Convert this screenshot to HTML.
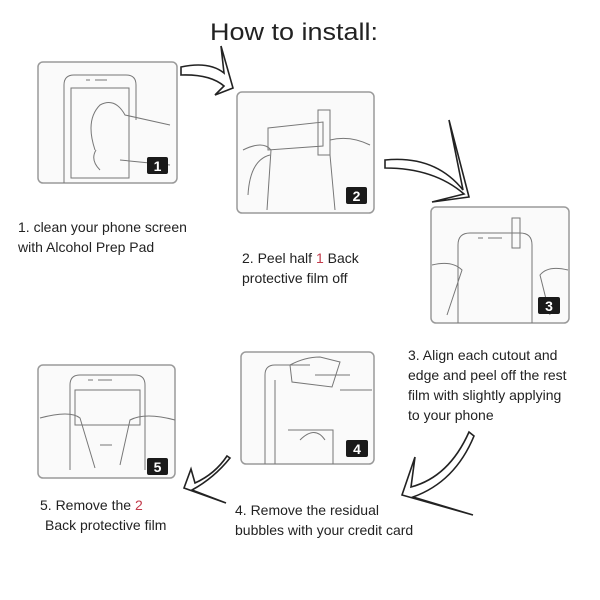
<!DOCTYPE html>
<html><head><style>
html,body{margin:0;padding:0;background:#fff;}
svg{display:block}
text{font-family:"Liberation Sans",sans-serif;fill:#222;}
</style></head><body>
<svg width="600" height="600" viewBox="0 0 600 600" xmlns="http://www.w3.org/2000/svg">
<rect width="600" height="600" fill="#fff"/>
<text x="294" y="40" font-size="24" text-anchor="middle" fill="#111" textLength="168" lengthAdjust="spacingAndGlyphs">How to install:</text>

<g fill="#fafafa" stroke="#9a9a9a" stroke-width="1.5">
<rect x="38" y="62" width="139" height="121" rx="5"/>
<rect x="237" y="92" width="137" height="121" rx="5"/>
<rect x="431" y="207" width="138" height="116" rx="5"/>
<rect x="241" y="352" width="133" height="112" rx="5"/>
<rect x="38" y="365" width="137" height="113" rx="5"/>
</g>

<g fill="none" stroke="#777" stroke-width="1">
<path d="M64 183 V85 q0-10 10-10 h52 q10 0 10 10 V120"/>
<rect x="71" y="88" width="58" height="90"/>
<path d="M86 80 h4 M95 80 h12"/>
<path d="M95 150 q-10-30 5-45 q15-8 25 10 l45 10 M120 160 l50 5 M100 170 q-10-10 -4-20"/>
<path d="M268 128 l55-6 v24 l-55 4 z M318 110 h12 v45 h-12z"/>
<path d="M243 150 q20-10 28 0 l-4 60 M330 140 q20-5 40 5 M330 155 l5 55 M270 155 q-20 5-22 40"/>
<path d="M458 323 V245 q0-12 12-12 h50 q12 0 12 12 V323"/>
<path d="M478 238 h5 M488 238 h14 M512 218 h8 v30 h-8z"/>
<path d="M432 265 q20-5 30 5 l-15 45 M568 270 q-20-5-28 5 l10 40"/>
<path d="M265 464 V375 q0-10 10-10 h35 M275 380 v84 M315 375 h35 M288 430 h45 v34 M300 440 q15-15 25 0"/>
<path d="M290 365 q15-8 30-8 l20 5 -8 25 -40 -5z M340 390 h32"/>
<path d="M70 470 V385 q0-10 10-10 h55 q10 0 10 10 V470 M75 390 h65 v35 h-65z M88 380 h5 M98 380 h14"/>
<path d="M40 418 q30-8 40 0 l15 50 M175 420 q-30-8-45 0 l-10 45 M100 445 h12"/>
</g>

<g fill="#1a1a1a">
<rect x="147" y="157" width="21" height="17" rx="2"/>
<rect x="346" y="187" width="21" height="17" rx="2"/>
<rect x="538" y="297" width="22" height="17" rx="2"/>
<rect x="346" y="440" width="22" height="17" rx="2"/>
<rect x="147" y="458" width="21" height="17" rx="2"/>
</g>
<g font-size="14" font-weight="bold" text-anchor="middle">
<text x="157.5" y="171" style="fill:#fff">1</text>
<text x="356.5" y="201" style="fill:#fff">2</text>
<text x="549" y="311" style="fill:#fff">3</text>
<text x="357" y="454" style="fill:#fff">4</text>
<text x="157.5" y="472" style="fill:#fff">5</text>
</g>

<g fill="#fff" stroke="#222" stroke-width="1.6" stroke-linejoin="miter">
<path d="M181 67 q28-6 43 6 l-3-27 l12 42 l-18 7 l9-9 q-14-12-43-11 z"/>
<path d="M385 160 q50-5 78 30 l-14-70 l20 77 l-37 5 l32-8 q-30-26-79-26 z"/>
<path d="M474 436 l-5-4 q-20 45-58 55 l4-30 l-13 38 l71 20 l-60-18 q42-15 61-61 z"/>
<path d="M230 458 l-3-2 q-12 18-32 27 l-4-14 l-7 19 l42 15 l-34-13 q22-12 38-32 z"/>
</g>

<g font-size="14">
<text x="18" y="232">1. clean your phone screen</text>
<text x="18" y="252">with Alcohol Prep Pad</text>
<text x="242" y="263">2. Peel half <tspan style="fill:#c23a4a">1</tspan> Back</text>
<text x="242" y="283">protective film off</text>
<text x="408" y="360">3. Align each cutout and</text>
<text x="408" y="380">edge and peel off the rest</text>
<text x="408" y="400">film with slightly applying</text>
<text x="408" y="420">to your phone</text>
<text x="235" y="515">4. Remove the residual</text>
<text x="235" y="535">bubbles with your credit card</text>
<text x="40" y="510">5. Remove the <tspan style="fill:#c23a4a">2</tspan></text>
<text x="45" y="530">Back protective film</text>
</g>
</svg>
</body></html>
